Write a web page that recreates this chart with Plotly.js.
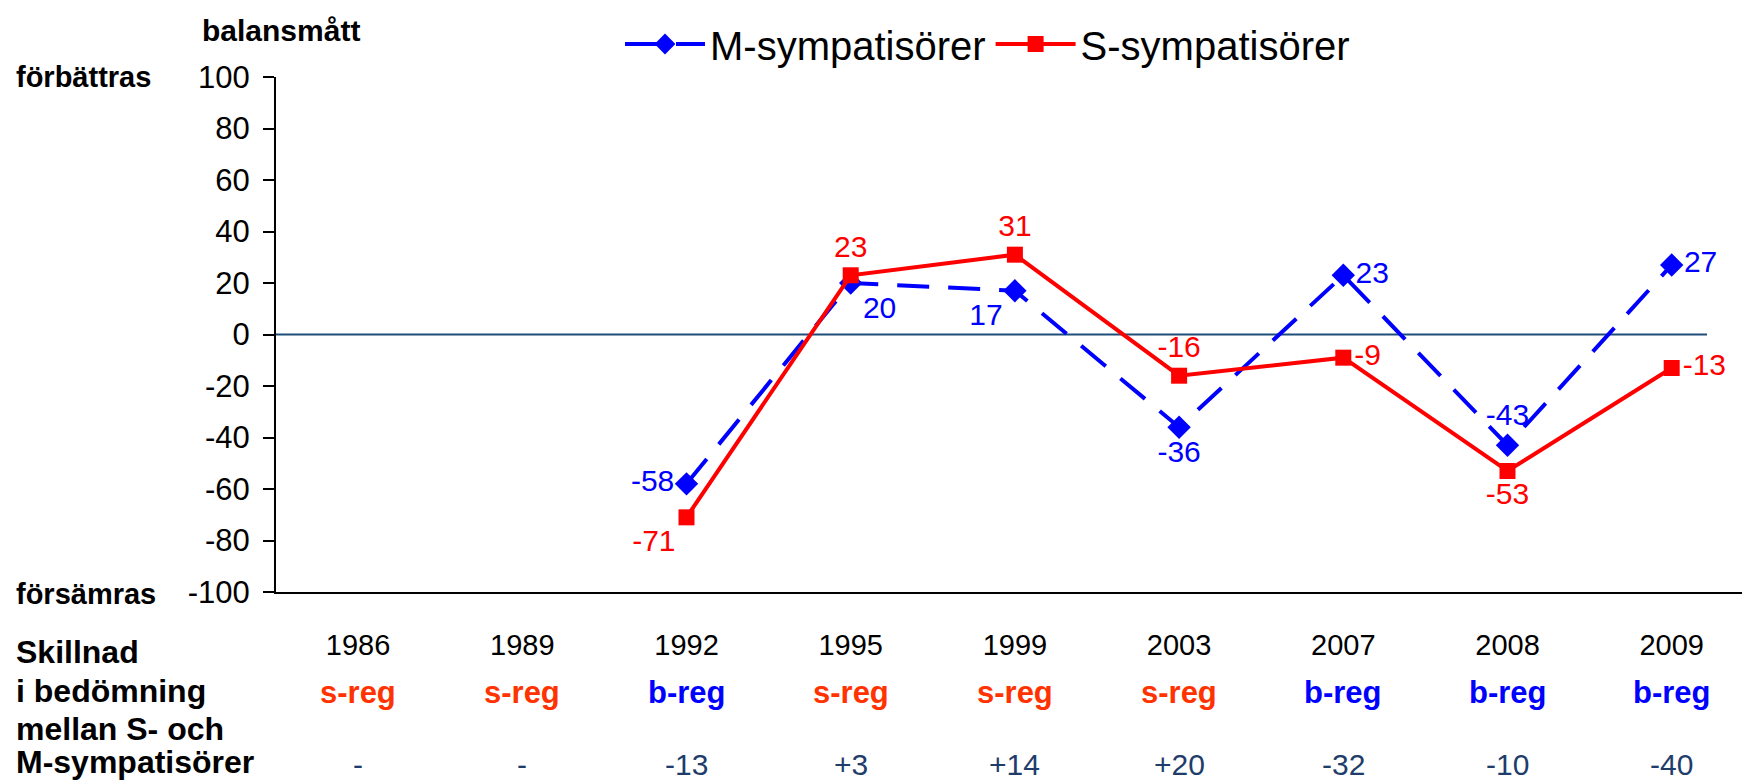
<!DOCTYPE html>
<html>
<head>
<meta charset="utf-8">
<script src="https://cdn.plot.ly/plotly-3.0.1.min.js"></script>
<style>
  html, body { margin: 0; padding: 0; background: #fff; }
  #chart { width: 1742px; height: 781px; }
</style>
</head>
<body>
<div id="chart"></div>
<script>
// ---- data ----
const years = ["1986", "1989", "1992", "1995", "1999", "2003", "2007", "2008", "2009"];
const mSympatisorer = [null, null, -58, 20, 17, -36, 23, -43, 27];
const sSympatisorer = [null, null, -71, 23, 31, -16, -9, -53, -13];
const regering = ["s-reg", "s-reg", "b-reg", "s-reg", "s-reg", "s-reg", "b-reg", "b-reg", "b-reg"];
const skillnad = ["-", "-", "-13", "+3", "+14", "+20", "-32", "-10", "-40"];
const yTicks = [100, 80, 60, 40, 20, 0, -20, -40, -60, -80, -100];

// ---- styles ----
const NARROW = "Liberation Sans Narrow, Arial Narrow, Liberation Sans, Arial, sans-serif";
const BOLD = "Liberation Sans, Arial, sans-serif";
const BLUE = "#0000FF";
const RED = "#FF0000";
const SREG = "#FF3300";
const NAVY = "#1F3D6B";

const L = 276, T = 77, W = 1742, H = 781, B = 189;
const plotW = W - L, plotH = H - T - B;
const px = X => (X - L) / plotW;
const py = Y => (H - B - Y) / plotH;

const mTextPos = ["middle left", "middle left", "middle left", "bottom right", "bottom left", "bottom center", "middle right", "top center", "middle right"];
const sTextPos = ["bottom left", "bottom left", "bottom left", "top center", "top center", "top center", "middle right", "bottom center", "middle right"];

const fmt = v => (v === null ? "" : String(v));

const traces = [
  {
    type: "scatter", mode: "lines+markers+text", name: "M-sympatisörer",
    x: years, y: mSympatisorer, text: mSympatisorer.map(fmt),
    textposition: mTextPos,
    textfont: { family: NARROW, size: 30, color: BLUE },
    line: { color: BLUE, width: 4, dash: "32px,19px" },
    marker: { symbol: "diamond", size: 18, color: BLUE },
    cliponaxis: false, connectgaps: false
  },
  {
    type: "scatter", mode: "lines+markers+text", name: "S-sympatisörer",
    x: years, y: sSympatisorer, text: sSympatisorer.map(fmt),
    textposition: sTextPos,
    textfont: { family: NARROW, size: 30, color: RED },
    line: { color: RED, width: 4 },
    marker: { symbol: "square", size: 16, color: RED },
    cliponaxis: false, connectgaps: false
  }
];

const annotations = [];
const leftLab = (text, Y, size) => annotations.push({
  xref: "paper", yref: "paper", x: px(14), y: py(Y), xanchor: "left", yanchor: "middle",
  text: "<b>" + text + "</b>", showarrow: false, font: { family: BOLD, size: size, color: "#000" }
});
annotations.push({
  xref: "paper", yref: "paper", x: px(200), y: py(30), xanchor: "left", yanchor: "middle",
  text: "<b>balansmått</b>", showarrow: false, font: { family: BOLD, size: 30, color: "#000" }
});
leftLab("förbättras", 77, 29);
leftLab("försämras", 594, 29);
leftLab("Skillnad", 652, 32);
leftLab("i bedömning", 691, 32);
leftLab("mellan S- och", 729, 32);
leftLab("M-sympatisörer", 762, 32);

years.forEach((yr, i) => {
  annotations.push({
    xref: "x", yref: "paper", x: i, y: py(692), xanchor: "center", yanchor: "middle",
    text: "<b>" + regering[i] + "</b>", showarrow: false,
    font: { family: BOLD, size: 31, color: regering[i] === "s-reg" ? SREG : BLUE }
  });
  annotations.push({
    xref: "x", yref: "paper", x: i, y: py(764), xanchor: "center", yanchor: "middle",
    text: skillnad[i], showarrow: false,
    font: { family: NARROW, size: 30, color: NAVY }
  });
});

const layout = {
  width: W, height: H,
  margin: { l: L, r: 0, t: T, b: B, pad: 0, autoexpand: false },
  paper_bgcolor: "#fff", plot_bgcolor: "#fff",
  showlegend: true,
  legend: {
    orientation: "h", x: px(620), y: py(44), xanchor: "left", yanchor: "middle",
    font: { family: NARROW, size: 40, color: "#000" },
    itemwidth: 80, tracegroupgap: 0, bgcolor: "rgba(0,0,0,0)"
  },
  xaxis: {
    type: "category", categoryorder: "array", categoryarray: years,
    range: [-0.5, -0.5 + plotW / 164.2],
    showline: true, linecolor: "#000", linewidth: 2,
    showgrid: false, zeroline: false, ticks: "",
    tickfont: { family: NARROW, size: 29, color: "#000" },
    ticklabelstandoff: 26, fixedrange: true
  },
  yaxis: {
    range: [-100, 100], tickvals: yTicks, ticktext: yTicks.map(String),
    showline: true, linecolor: "#000", linewidth: 2,
    ticks: "outside", ticklen: 11, tickwidth: 2, tickcolor: "#000",
    showgrid: false, zeroline: false,
    tickfont: { family: NARROW, size: 31, color: "#000" },
    ticklabelstandoff: 7, fixedrange: true
  },
  shapes: [
    { type: "line", xref: "paper", yref: "y", x0: 0, x1: px(1707), y0: 0, y1: 0,
      line: { color: "#1F4E79", width: 2 }, layer: "below" }
  ],
  annotations: annotations
};

Plotly.newPlot("chart", traces, layout, { staticPlot: true, displayModeBar: false });
</script>
</body>
</html>
